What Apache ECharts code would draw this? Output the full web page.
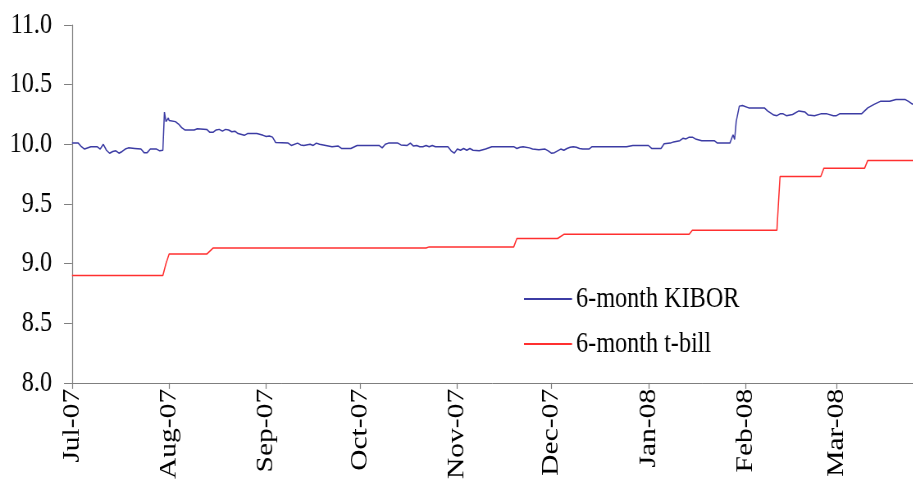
<!DOCTYPE html>
<html>
<head>
<meta charset="utf-8">
<script src="https://cdn.jsdelivr.net/npm/echarts@6/dist/echarts.min.js"></script>
<style>
html,body{margin:0;padding:0;background:#fff;overflow:hidden;width:913px;height:482px;}
#wrap{position:absolute;left:0;top:0;width:913px;height:482px;overflow:hidden;}
#c{position:absolute;left:0;top:0;width:1113px;height:482px;transform:scaleX(0.82);transform-origin:0 0;}
</style>
</head>
<body>
<div id="wrap"><div id="c"></div></div>
<script>
var monthTicks = ['2007-07-01','2007-08-01','2007-09-01','2007-10-01','2007-11-01','2007-12-01','2008-01-01','2008-02-01','2008-03-01'];
var monthNames = ['Jan','Feb','Mar','Apr','May','Jun','Jul','Aug','Sep','Oct','Nov','Dec'];
var yTicks = [8.0, 8.5, 9.0, 9.5, 10.0, 10.5, 11.0];

var kiborDates = ['2007-07-01','2007-07-03','2007-07-04','2007-07-05','2007-07-07','2007-07-09','2007-07-10','2007-07-11','2007-07-12','2007-07-13','2007-07-14','2007-07-15','2007-07-16','2007-07-17','2007-07-18','2007-07-19','2007-07-21','2007-07-23','2007-07-24','2007-07-25','2007-07-26','2007-07-28','2007-07-29','2007-07-30','2007-07-30 12:00','2007-07-31','2007-07-31 18:00','2007-08-01','2007-08-03','2007-08-04','2007-08-05','2007-08-06','2007-08-09','2007-08-10','2007-08-13','2007-08-14','2007-08-15','2007-08-16','2007-08-17','2007-08-18','2007-08-19','2007-08-20','2007-08-21','2007-08-22','2007-08-23','2007-08-25','2007-08-26','2007-08-29','2007-08-31','2007-09-01','2007-09-02','2007-09-03','2007-09-04','2007-09-08','2007-09-09','2007-09-11','2007-09-12','2007-09-13','2007-09-15','2007-09-16','2007-09-17','2007-09-18','2007-09-20','2007-09-22','2007-09-24','2007-09-25','2007-09-28','2007-09-30','2007-10-01','2007-10-07','2007-10-08','2007-10-09','2007-10-10','2007-10-13','2007-10-14','2007-10-16','2007-10-17','2007-10-18','2007-10-19','2007-10-20','2007-10-21','2007-10-22','2007-10-23','2007-10-24','2007-10-25','2007-10-29','2007-10-30','2007-10-31','2007-11-01','2007-11-02','2007-11-03','2007-11-04','2007-11-05','2007-11-06','2007-11-08','2007-11-10','2007-11-12','2007-11-19','2007-11-20','2007-11-21','2007-11-22','2007-11-24','2007-11-25','2007-11-27','2007-11-29','2007-11-30','2007-12-01','2007-12-02','2007-12-03','2007-12-04','2007-12-05','2007-12-06','2007-12-07','2007-12-08','2007-12-09','2007-12-10','2007-12-11','2007-12-13','2007-12-14','2007-12-25','2007-12-27','2007-12-29','2008-01-01','2008-01-02','2008-01-05','2008-01-06','2008-01-08','2008-01-09','2008-01-11','2008-01-12','2008-01-13','2008-01-14','2008-01-15','2008-01-16','2008-01-18','2008-01-22','2008-01-23','2008-01-27','2008-01-28','2008-01-28 12:00','2008-01-29','2008-01-30','2008-01-31','2008-02-02','2008-02-07','2008-02-08','2008-02-10','2008-02-11','2008-02-12','2008-02-13','2008-02-14','2008-02-16','2008-02-18','2008-02-20','2008-02-21','2008-02-23','2008-02-25','2008-02-27','2008-02-29','2008-03-01','2008-03-02','2008-03-09','2008-03-11','2008-03-13','2008-03-15','2008-03-18','2008-03-20','2008-03-23','2008-03-24','2008-03-25 08:00'];
var kiborValues = [10.01,10.01,9.98,9.96,9.98,9.98,9.96,10.00,9.95,9.925,9.94,9.945,9.925,9.94,9.96,9.97,9.965,9.96,9.93,9.93,9.96,9.96,9.945,9.95,10.27,10.19,10.22,10.20,10.19,10.17,10.14,10.12,10.12,10.13,10.125,10.10,10.10,10.12,10.125,10.11,10.125,10.12,10.105,10.11,10.09,10.075,10.09,10.09,10.075,10.065,10.07,10.06,10.015,10.01,9.99,10.01,9.995,9.99,10.00,9.99,10.01,10.00,9.99,9.98,9.985,9.965,9.965,9.99,9.99,9.99,9.97,10.00,10.01,10.01,9.995,9.99,10.01,9.985,9.99,9.98,9.98,9.99,9.98,9.99,9.98,9.98,9.945,9.925,9.96,9.95,9.965,9.95,9.965,9.95,9.945,9.96,9.98,9.98,9.965,9.975,9.98,9.97,9.96,9.955,9.96,9.945,9.925,9.93,9.945,9.96,9.95,9.965,9.975,9.98,9.975,9.965,9.96,9.96,9.98,9.98,9.99,9.99,9.99,9.965,9.965,10.005,10.01,10.02,10.03,10.05,10.045,10.06,10.06,10.045,10.03,10.03,10.01,10.01,10.08,10.04,10.19,10.32,10.325,10.305,10.305,10.28,10.245,10.24,10.255,10.255,10.24,10.25,10.28,10.27,10.245,10.24,10.255,10.255,10.24,10.24,10.255,10.255,10.305,10.335,10.36,10.36,10.375,10.375,10.36,10.335];

var tbillDates = ['2007-07-01','2007-07-30','2007-07-31','2007-08-01','2007-08-13','2007-08-15','2007-10-22','2007-10-23','2007-11-19','2007-11-20','2007-12-03','2007-12-05','2008-01-14','2008-01-15','2008-02-11','2008-02-11 12:00','2008-02-12','2008-02-25','2008-02-26','2008-03-10','2008-03-11','2008-03-25 08:00'];
var tbillValues = [8.90,8.90,9.00,9.08,9.08,9.13,9.13,9.14,9.14,9.21,9.21,9.245,9.245,9.28,9.28,9.51,9.73,9.73,9.80,9.80,9.865,9.865];

var blue = '#3c3ca4', red = '#ff3030';
var SX = 0.82; // horizontal squeeze of the drawing (reference text is tall and narrow)

function parseD(s){
  var p = s.split(' ');
  var d = p[0].split('-');
  var h = p[1] ? parseInt(p[1].split(':')[0],10) : 0;
  return new Date(+d[0], +d[1]-1, +d[2], h).getTime();
}
function pairs(ds, vs){ return ds.map(function(d,i){ return [parseD(d), vs[i]]; }); }

var tickVals = monthTicks.map(parseD);
var serif = '"Liberation Serif","Times New Roman",serif';
var FS = 29.5;

var chart = echarts.init(document.getElementById('c'), null, {renderer:'canvas', width: 1113, height: 482});
chart.setOption({
  animation: false,
  backgroundColor: '#ffffff',
  grid: {left: 72 / SX, right: 0, top: 25, bottom: 97, containLabel: false},
  legend: {
    orient: 'vertical', left: 524 / SX - 5, top: 279,
    itemWidth: 48 / SX, itemHeight: 2, itemGap: 15,
    textStyle: {fontFamily: serif, fontSize: FS, color: '#000'},
    data: [
      {name: '6-month KIBOR', icon: 'rect', itemStyle: {color: blue}},
      {name: '6-month t-bill', icon: 'rect', itemStyle: {color: red}}
    ]
  },
  xAxis: {
    type: 'value',
    min: parseD('2007-07-01'),
    max: parseD('2008-03-25 08:00'),
    splitLine: {show: false},
    axisLine: {show: true, lineStyle: {color: '#7f7f7f', width: 1}},
    axisTick: {show: true, length: 6, lineStyle: {color: '#7f7f7f', width: 1.2}, customValues: tickVals},
    axisLabel: {
      customValues: tickVals,
      rotate: 90, margin: 6,
      fontFamily: serif, fontSize: FS, color: '#000',
      showMinLabel: true, showMaxLabel: true,
      formatter: function(v){
        var d = new Date(v);
        var yy = String(d.getFullYear()).slice(2);
        return monthNames[d.getMonth()] + '-' + yy;
      }
    }
  },
  yAxis: {
    type: 'value', min: 8, max: 11, interval: 0.5,
    splitLine: {show: false},
    axisLine: {show: true, lineStyle: {color: '#7f7f7f', width: 1.2}},
    axisTick: {show: true, inside: false, length: 8 / SX, lineStyle: {color: '#7f7f7f'}},
    axisLabel: {
      margin: 20 / SX, fontFamily: serif, fontSize: FS, color: '#000',
      formatter: function(v){ return v.toFixed(1); }
    }
  },
  series: [
    {name: '6-month KIBOR', type: 'line', symbol: 'none', showSymbol: false,
     lineStyle: {color: blue, width: 1.5}, itemStyle: {color: blue},
     data: pairs(kiborDates, kiborValues)},
    {name: '6-month t-bill', type: 'line', symbol: 'none', showSymbol: false,
     lineStyle: {color: red, width: 1.5}, itemStyle: {color: red},
     data: pairs(tbillDates, tbillValues)}
  ]
});
</script>
</body>
</html>
